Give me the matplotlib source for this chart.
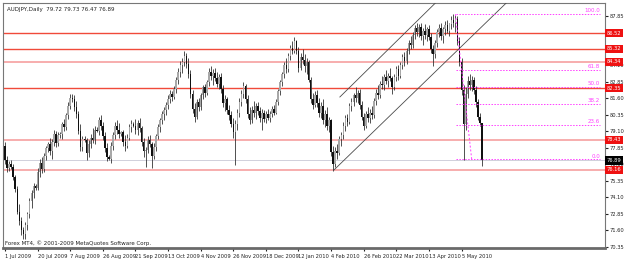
import matplotlib
matplotlib.use("Agg")
import matplotlib.pyplot as plt
import matplotlib.transforms as mtransforms

plt.rcParams["font.family"] = ["Liberation Sans Narrow", "DejaVu Sans"]

# ---------------- data ----------------
opens = [78.0,76.9,76.3,76.6,76.4,75.6,74.7,73.0,72.3,71.6,71.3,72.0,72.8,73.8,74.4,74.9,74.8,76.0,76.7,76.2,
         77.2,77.8,78.1,77.6,78.3,78.9,78.2,78.8,78.9,79.6,79.4,80.3,81.0,81.6,81.5,80.9,80.4,79.1,77.9,78.5,
         78.4,77.4,78.1,78.6,78.4,79.2,79.1,79.9,79.5,78.7,77.8,77.1,77.0,78.0,78.8,79.5,79.2,78.9,79.0,78.3,
         78.0,78.6,79.4,79.6,79.5,79.2,79.7,79.3,78.3,77.6,77.7,78.4,78.1,77.2,77.9,78.7,79.4,79.9,80.4,80.7,
         81.1,81.5,81.9,81.7,82.3,83.0,83.6,84.1,84.3,84.8,84.2,83.4,81.9,80.8,80.2,81.3,80.9,81.8,82.4,82.0,
         82.8,83.6,83.3,83.5,83.1,82.7,83.2,82.3,81.2,81.5,80.7,80.3,79.6,79.0,79.6,80.5,81.3,81.9,82.5,81.5,
         80.4,79.9,80.7,80.5,81.0,80.6,80.1,80.5,80.0,80.4,80.1,80.4,80.8,80.5,81.3,82.1,82.8,83.4,84.1,83.8,
         84.8,85.4,85.2,85.9,85.2,83.9,84.7,84.5,84.0,84.3,83.0,81.5,81.1,81.8,81.2,80.5,81.0,79.9,80.4,79.5,
         79.9,77.5,76.6,77.6,77.4,78.5,78.8,79.5,80.1,79.8,81.0,81.3,81.8,81.6,82.0,81.1,80.2,79.5,80.4,80.1,
         80.5,80.3,81.4,82.0,81.8,82.7,82.6,83.2,82.9,83.3,83.1,82.4,83.2,83.8,83.3,84.1,84.7,84.4,85.2,85.8,
         85.6,86.4,86.9,86.6,87.0,86.3,86.7,86.4,86.8,86.2,85.3,84.9,85.8,86.6,86.9,86.3,86.8,87.1,86.7,87.2,
         87.5,87.3,87.6,85.9,84.3,82.2,79.6,81.9,82.9,82.6,83.0,82.2,81.3,80.2,79.72]
highs = [78.3,77.2,76.8,76.9,76.6,75.8,74.9,73.6,72.6,71.8,72.2,73.0,74.0,74.6,75.2,75.1,76.3,77.0,77.1,77.4,
         78.0,78.3,78.6,78.5,79.2,79.1,79.0,79.0,79.8,80.0,80.5,81.3,81.9,81.9,81.8,81.4,80.6,79.6,78.7,78.7,
         78.6,78.4,78.9,79.3,79.5,79.4,80.2,80.3,79.8,79.0,78.2,77.3,78.3,79.0,79.8,79.9,79.7,79.1,79.2,78.8,
         78.9,79.6,79.9,79.8,80.0,79.9,80.1,79.5,78.6,77.9,78.7,78.8,78.3,78.2,78.9,79.6,80.1,80.6,80.9,81.3,
         81.8,82.2,82.1,82.5,83.2,83.9,84.4,84.6,85.2,85.0,84.6,83.7,82.2,81.2,81.5,81.6,82.0,82.6,82.7,83.0,
         83.9,84.0,83.8,83.9,83.6,83.4,83.5,82.6,81.8,81.7,81.1,80.6,80.1,79.9,80.8,81.6,82.2,82.8,82.7,81.8,
         80.9,81.0,81.4,81.2,81.3,80.9,80.8,80.7,80.6,80.8,80.6,81.0,81.1,81.5,82.3,83.0,83.6,84.3,84.6,85.0,
         85.6,85.9,86.2,86.0,85.5,85.0,85.3,84.9,84.6,84.5,83.2,82.0,82.1,82.2,81.6,81.3,81.5,80.7,80.9,80.2,
         80.0,78.0,77.9,78.1,78.7,79.0,79.8,80.3,80.4,81.2,81.6,82.0,82.4,82.2,82.3,81.4,80.5,80.6,80.9,80.8,
         81.0,81.6,82.3,82.6,82.9,83.3,83.4,83.7,83.5,83.9,83.3,83.4,84.0,84.1,84.3,84.9,85.1,85.4,86.0,86.3,
         86.6,87.1,87.3,87.2,87.3,86.9,87.2,87.0,87.1,86.5,85.6,86.0,86.8,87.2,87.3,87.0,87.4,87.5,87.3,87.8,
         88.0,87.9,87.8,86.2,84.6,82.6,82.4,83.3,83.4,83.3,83.2,82.5,81.5,80.5,79.73]
lows = [76.6,76.0,76.1,76.2,75.4,74.5,72.8,72.0,71.2,70.9,70.9,71.6,72.5,73.3,74.0,74.6,74.6,75.6,75.9,76.0,
        76.9,77.5,77.3,77.0,78.0,77.9,78.0,78.6,78.5,79.1,79.2,80.0,80.8,81.3,80.6,80.1,78.9,77.6,77.6,78.3,
        76.9,77.1,77.8,78.2,78.1,79.0,78.8,79.2,78.4,77.5,76.8,76.9,76.7,77.7,78.5,78.9,78.6,78.7,78.0,77.6,
        77.8,78.4,79.0,79.4,78.9,78.8,79.0,78.0,77.1,76.4,77.4,77.9,76.3,77.0,77.6,78.5,79.0,79.6,79.9,80.3,
        80.8,81.2,81.4,81.5,82.0,82.7,83.2,83.5,84.0,83.9,83.1,81.6,80.5,79.8,80.0,80.6,80.7,81.5,81.7,81.8,
        82.5,83.0,82.6,82.9,82.4,82.3,82.0,80.9,80.6,80.4,79.9,79.4,78.6,76.5,79.2,80.2,81.0,81.6,81.2,80.1,
        79.6,79.7,80.2,80.0,80.3,79.8,79.2,79.8,79.7,79.9,79.8,80.2,80.3,80.4,81.1,81.8,82.5,83.1,83.5,83.6,
        84.5,84.9,85.0,84.9,83.6,83.7,84.2,83.6,83.4,82.8,81.2,80.8,80.9,80.9,80.2,80.1,79.6,79.4,79.2,79.0,
        77.2,76.1,76.4,77.0,77.3,78.0,78.5,79.1,79.5,79.6,80.6,81.0,81.3,81.2,80.8,79.9,79.2,79.3,79.8,79.7,
        80.0,80.1,81.1,81.5,81.6,82.3,82.2,82.7,82.4,82.9,81.9,82.2,82.9,83.0,83.1,83.8,84.0,84.2,84.9,85.3,
        85.4,86.1,86.3,86.2,86.0,85.6,86.1,85.9,86.0,85.0,84.0,84.6,85.5,86.2,86.0,85.8,86.4,86.5,86.3,86.8,
        87.0,86.6,85.6,84.0,81.8,76.9,79.2,81.6,82.2,82.1,81.9,80.9,79.9,79.5,76.47]
closes = [76.9,76.3,76.6,76.4,75.6,74.7,73.0,72.3,71.6,71.3,72.0,72.8,73.8,74.4,74.9,74.8,76.0,76.7,76.2,77.2,
          77.8,78.1,77.6,78.3,78.9,78.2,78.8,78.9,79.6,79.4,80.3,81.0,81.6,81.5,80.9,80.4,79.1,77.9,78.5,78.4,
          77.4,78.1,78.6,78.4,79.2,79.1,79.9,79.5,78.7,77.8,77.1,77.0,78.0,78.8,79.5,79.2,78.9,79.0,78.3,78.0,
          78.6,79.4,79.6,79.5,79.2,79.7,79.3,78.3,77.6,77.7,78.4,78.1,77.2,77.9,78.7,79.4,79.9,80.4,80.7,81.1,
          81.5,81.9,81.7,82.3,83.0,83.6,84.1,84.3,84.8,84.2,83.4,81.9,80.8,80.2,81.3,80.9,81.8,82.4,82.0,82.8,
          83.6,83.3,83.5,83.1,82.7,83.2,82.3,81.2,81.5,80.7,80.3,79.6,79.0,79.6,80.5,81.3,81.9,82.5,81.5,80.4,
          79.9,80.7,80.5,81.0,80.6,80.1,80.5,80.0,80.4,80.1,80.4,80.8,80.5,81.3,82.1,82.8,83.4,84.1,83.8,84.8,
          85.4,85.2,85.9,85.2,83.9,84.7,84.5,84.0,84.3,83.0,81.5,81.1,81.8,81.2,80.5,81.0,79.9,80.4,79.5,79.9,
          77.5,76.6,77.6,77.4,78.5,78.8,79.5,80.1,79.8,81.0,81.3,81.8,81.6,82.0,81.1,80.2,79.5,80.4,80.1,80.5,
          80.3,81.4,82.0,81.8,82.7,82.6,83.2,82.9,83.3,83.1,82.4,83.2,83.8,83.3,84.1,84.7,84.4,85.2,85.8,85.6,
          86.4,86.9,86.6,87.0,86.3,86.7,86.4,86.8,86.2,85.3,84.9,85.8,86.6,86.9,86.3,86.8,87.1,86.7,87.2,87.5,
          87.3,87.6,85.9,84.3,82.2,79.6,81.9,82.9,82.6,83.0,82.2,81.3,80.2,79.7,76.89]

date_labels = ["1 Jul 2009", "20 Jul 2009", "7 Aug 2009", "26 Aug 2009", "21 Sep 2009",
               "13 Oct 2009", "4 Nov 2009", "26 Nov 2009", "18 Dec 2009", "12 Jan 2010",
               "4 Feb 2010", "26 Feb 2010", "22 Mar 2010", "13 Apr 2010", "5 May 2010"]
date_bars = [0, 16, 32, 48, 64, 80, 96, 112, 128, 144, 160, 176, 192, 208, 224]

price_ticks = [87.85, 86.60, 85.35, 84.10, 82.85, 81.60, 80.35, 79.10, 77.85,
               76.60, 75.35, 74.10, 72.85, 71.60, 70.35]
hidden_ticks = [86.60, 85.35]

level_values = [86.52, 85.32, 84.34, 82.35, 78.43, 76.16]
level_labels = ["86.52", "85.32", "84.34", "82.35", "78.43", "76.16"]
level_strong = [True, True, False, True, False, False]

bid_price = 76.89

fib_high = 87.95
fib_low = 76.95
fib_ratios = [100.0, 61.8, 50.0, 38.2, 23.6, 0.0]
fib_start_bar = 221.5
fib_end_bar = 292
fib_diag_bars = [221, 229]

chan_upper_bars = [164.3, 225.0]
chan_upper_prices = [81.68, 90.9]
chan_lower_bars = [161.4, 247.4]
chan_lower_prices = [76.15, 89.02]

# ---------------- figure ----------------
W, H = 625, 263
fig = plt.figure(figsize=(W / 100, H / 100), dpi=100)
fig.patch.set_facecolor("white")
ax = fig.add_axes([3 / W, (H - 248) / H, (605 - 3) / W, (248 - 3) / H])
ax.set_facecolor("white")
ax.set_xlim(-1, 294.4)
ax.set_ylim(70.24, 88.8)

FS = 4.0
FSA = 3.7

# candles
for i in range(len(closes)):
    o, h, l, c = opens[i], highs[i], lows[i], closes[i]
    ax.vlines(i, l, h, color="#333333", lw=0.6, zorder=3)
    bull = c >= o
    ax.bar(i, max(abs(c - o), 0.03), bottom=min(o, c), width=0.75,
           color="#a8a8a8" if bull else "#101010", edgecolor="none", zorder=4)

# horizontal levels
for v, s in zip(level_values, level_strong):
    ax.axhline(v, color="#f04a3a" if s else "#f7a7a7", lw=1.0 if s else 1.3, zorder=2)

# bid line
ax.axhline(bid_price, color="#c9c9d6", lw=0.6, zorder=1)

# channel lines
ax.plot(chan_upper_bars, chan_upper_prices, color="#4a4a4a", lw=0.6, zorder=5)
ax.plot(chan_lower_bars, chan_lower_prices, color="#4a4a4a", lw=0.6, zorder=5)

# fibonacci
fib_col = "#ff40ff"
for r in fib_ratios:
    p = fib_low + (fib_high - fib_low) * r / 100.0
    ax.plot([fib_start_bar, fib_end_bar], [p, p], color=fib_col, lw=0.7,
            linestyle=(0, (1.5, 1.5)), zorder=5)
    ax.text(fib_end_bar, p + 0.06, f"{r:.1f}", color=fib_col, fontsize=FS,
            ha="right", va="bottom", zorder=6)
ax.plot(fib_diag_bars, [fib_high, fib_low], color=fib_col, lw=0.7,
        linestyle=(0, (2, 2)), zorder=5)

# axes styling
for sp in ax.spines.values():
    sp.set_color("#777777")
    sp.set_linewidth(0.8)
ax.spines["bottom"].set_linewidth(2.0)
ax.spines["bottom"].set_color("#6a6a6a")

ax.yaxis.tick_right()
ax.set_yticks(price_ticks)
ax.set_yticklabels(["" if t in hidden_ticks else f"{t:.2f}" for t in price_ticks])
ax.tick_params(axis="y", labelsize=FSA, length=2, pad=1.5, colors="#222222")

ax.set_xticks(date_bars)
ax.set_xticklabels(date_labels)
ax.tick_params(axis="x", labelsize=FSA, length=2, pad=2, colors="#222222")
for lab in ax.get_xticklabels():
    lab.set_ha("left")

# right-hand price boxes
trans = mtransforms.blended_transform_factory(ax.transAxes, ax.transData)
for v, lab in zip(level_values, level_labels):
    ax.text(1.003, v, lab, transform=trans, fontsize=FSA, color="white",
            ha="left", va="center", clip_on=False, zorder=10,
            bbox=dict(boxstyle="square,pad=0.35", fc="#ee1111", ec="none"))
ax.text(1.003, bid_price, f"{bid_price:.2f}", transform=trans, fontsize=FSA,
        color="white", ha="left", va="center", clip_on=False, zorder=10,
        bbox=dict(boxstyle="square,pad=0.35", fc="#000000", ec="none"))

# texts
ax.text(0.006, 0.985, "AUDJPY,Daily  79.72 79.73 76.47 76.89", transform=ax.transAxes,
        fontsize=FS, ha="left", va="top", color="#222222")
ax.text(0.004, 0.008, "Forex MT4, \u00a9 2001-2009 MetaQuotes Software Corp.",
        transform=ax.transAxes, fontsize=FS, ha="left", va="bottom", color="#222222")

fig.savefig("out.png", dpi=100, facecolor="white")
